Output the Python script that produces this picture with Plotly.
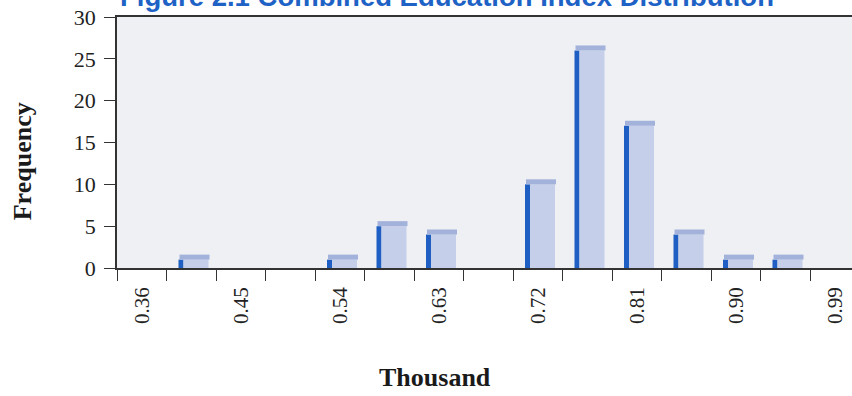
import plotly.graph_objects as go

# ---- data ----
bin_start = 0.36          # centre of first bin
bin_width = 0.045
tick_labels = ["0.36", "0.45", "0.54", "0.63", "0.72", "0.81", "0.90", "0.99"]
frequency = [0, 1, 0, 0, 1, 5, 4, 0, 10, 26, 17, 4, 1, 1, 0]
y_ticks = [0, 5, 10, 15, 20, 25, 30]
title_text = "Figure 2.1 Combined Education Index Distribution"
x_title = "Thousand"
y_title = "Frequency"

# ---- derived ----
n = len(frequency)
centers = [bin_start + bin_width * k for k in range(n)]
edges = [bin_start - bin_width / 2 + bin_width * k for k in range(n + 1)]
label_pos = [float(t) for t in tick_labels]
xs = [c for c, f in zip(centers, frequency) if f > 0]
ys = [f for f in frequency if f > 0]

px = bin_width / 49.5  # data units per pixel on x

FACE = "#c5cfe9"
SIDE = "#1f5fc4"
CAP = "#a2b2da"

fig = go.Figure()
# side (dark) strip
fig.add_trace(go.Bar(x=xs, y=ys, width=[5 * px] * len(xs), offset=-12.75 * px,
                     marker=dict(color=SIDE, line=dict(width=0)), hoverinfo="skip"))
# front face
fig.add_trace(go.Bar(x=xs, y=ys, width=[25 * px] * len(xs), offset=-7.75 * px,
                     marker=dict(color=FACE, line=dict(width=0))))
# top face
fig.add_trace(go.Bar(x=xs, y=[0.6] * len(xs), base=ys, width=[30 * px] * len(xs),
                     offset=-11.75 * px,
                     marker=dict(color=CAP, line=dict(width=0)), hoverinfo="skip"))

serif = "Liberation Serif"
fig.update_layout(
    width=852, height=396,
    margin=dict(l=117, r=0, t=17, b=128),
    paper_bgcolor="white",
    plot_bgcolor="#eef0f4",
    barmode="overlay",
    showlegend=False,
    font=dict(family=serif, color="#222"),
    xaxis=dict(
        range=[edges[0], edges[0] + 735 * px],
        tickmode="array", tickvals=label_pos, ticktext=tick_labels,
        tickangle=-90, ticks="outside", ticklen=9, tickcolor="rgba(0,0,0,0)",
        tickfont=dict(family=serif, size=21, color="#222"),
        showline=True, linecolor="#333", linewidth=1.5, mirror=True,
        showgrid=False, zeroline=False,
        minor=dict(tickmode="array", tickvals=edges, ticks="outside", ticklen=11,
                   tickcolor="#333", tickwidth=1.2, showgrid=False),
    ),
    yaxis=dict(
        range=[0, 30], tickmode="array", tickvals=y_ticks,
        ticks="outside", ticklen=11, tickcolor="#333", tickwidth=1.2,
        tickfont=dict(family=serif, size=22, color="#222"),
        showline=True, linecolor="#333", linewidth=1.5,
        showgrid=False, zeroline=False, ticklabelstandoff=4,
    ),
    annotations=[
        dict(text=f"<b>{title_text}</b>", xref="paper", yref="paper", x=0.0014, y=1.012,
             xanchor="left", yanchor="bottom", showarrow=False,
             font=dict(family="Liberation Sans", size=27.5, color="#1e62c6")),
        dict(text=f"<b>{y_title}</b>", xref="paper", yref="paper", x=-0.129, y=0.426,
             xanchor="center", yanchor="middle", textangle=-90, showarrow=False,
             font=dict(family=serif, size=26, color="#1a1a1a")),
        dict(text=f"<b>{x_title}</b>", xref="paper", yref="paper", x=0.4327, y=-0.438,
             xanchor="center", yanchor="middle", showarrow=False,
             font=dict(family=serif, size=26, color="#1a1a1a")),
    ],
)

fig.write_html("out.html")
